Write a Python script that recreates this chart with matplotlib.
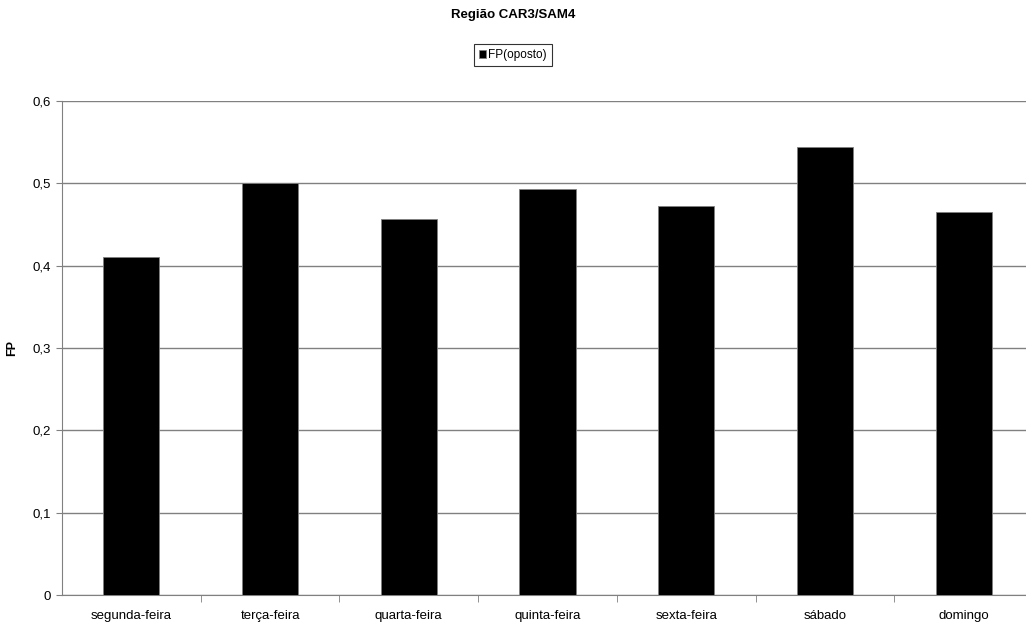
import matplotlib.pyplot as plt
import numpy as np

plt.rcParams['font.family'] = ['Liberation Sans', 'DejaVu Sans']

dias = ['segunda-feira', 'terça-feira', 'quarta-feira', 'quinta-feira',
        'sexta-feira', 'sábado', 'domingo']
fp_oposto = [0.411, 0.501, 0.457, 0.493, 0.473, 0.544, 0.465]

fig = plt.figure(figsize=(10.26, 6.29), dpi=100)
# eixo um pouco mais largo que a figura: o último espaço fica cortado à direita
ax = fig.add_axes([62 / 1026, 1 - 595 / 629, 971 / 1026, 494 / 629])

x = np.arange(len(dias))
ax.bar(x, fp_oposto, width=0.405, color='black', edgecolor='#808080',
       linewidth=0.6, label='FP(oposto)', zorder=3)

ax.set_xlim(-0.5, len(dias) - 0.5)
ax.set_ylim(0, 0.6)
ax.set_yticks(np.arange(0, 0.61, 0.1))
ax.set_yticklabels(['0', '0,1', '0,2', '0,3', '0,4', '0,5', '0,6'], fontsize=9.5)
ax.set_xticks(x)
ax.set_xticklabels(dias, fontsize=9.5)
ax.set_xticks(np.arange(0.5, len(dias) - 0.5, 1), minor=True)
ax.tick_params(axis='x', which='major', length=0, pad=11)
ax.tick_params(axis='x', which='minor', length=5, direction='out', color='#808080')
ax.tick_params(axis='y', length=4, direction='out', color='#808080', pad=4)

ax.grid(axis='y', color='#808080', linewidth=1, zorder=0)
ax.spines['top'].set_visible(False)
ax.spines['right'].set_visible(False)
ax.spines['left'].set_color('#808080')
ax.spines['bottom'].set_color('#808080')

ax.set_ylabel('FP', fontsize=9, fontweight='bold', labelpad=10)

fig.suptitle('Região CAR3/SAM4', fontsize=9.5, fontweight='bold', y=1 - 15 / 629, va='center')
leg = fig.legend(loc='center', bbox_to_anchor=(513 / 1026, 1 - 55 / 629), fontsize=8.5,
                 frameon=True, fancybox=False, edgecolor='black', handlelength=0.6,
                 handleheight=0.6, handletextpad=0.15, borderpad=0.45,
                 borderaxespad=0)
leg.get_frame().set_linewidth(0.8)

fig.savefig('out.png', dpi=100)
